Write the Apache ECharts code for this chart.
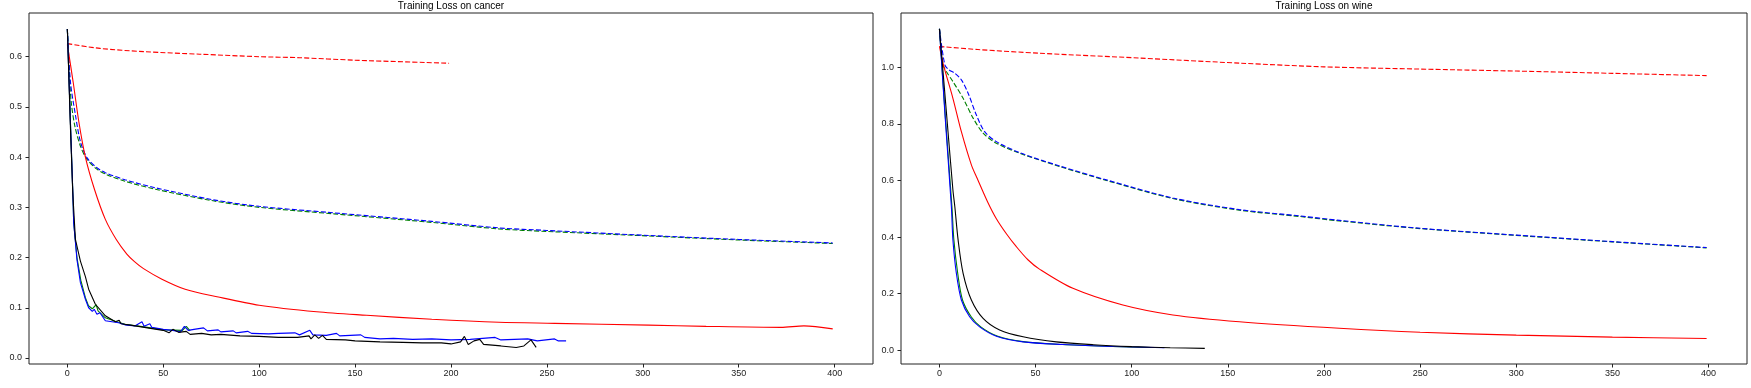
<!DOCTYPE html>
<html>
<head>
<meta charset="utf-8">
<script src="https://cdn.jsdelivr.net/npm/echarts@6/dist/echarts.min.js"></script>
<style>
html,body{margin:0;padding:0;background:#fff;}
#chart{width:1751px;height:388px;}
</style>
</head>
<body>
<div id="chart"></div>
<script>
// ---- tick labels ----
const xTicks = [0, 50, 100, 150, 200, 250, 300, 350, 400];
const cancerYTicks = [0.0, 0.1, 0.2, 0.3, 0.4, 0.5, 0.6];
const wineYTicks = [0.0, 0.2, 0.4, 0.6, 0.8, 1.0];
const titles = ["Training Loss on cancer", "Training Loss on wine"];

// ---- cancer series [epoch, loss] ----
const cancerRedDashed = [[0,0.626],[17,0.6165],[40,0.610],[69,0.605],[100,0.600],[121,0.598],[150,0.593],[199,0.587]];
const cancerGreenDashed = [[0,0.655],[1,0.57],[2,0.51],[4,0.46],[7,0.42],[10,0.397],[15,0.377],[20,0.366],[30,0.352],[46,0.336],[76,0.313],[100,0.300],[139,0.287],[190,0.270],[225,0.257],[250,0.252],[303,0.243],[350,0.235],[399,0.228]];
const cancerBlueDashed = [[0,0.655],[1.6,0.55],[4.2,0.484],[6.8,0.431],[10.2,0.399],[15,0.38],[19.8,0.369],[30,0.355],[45.8,0.339],[76,0.315],[100,0.302],[139,0.289],[190,0.272],[225,0.259],[250,0.254],[303,0.244],[350,0.236],[399,0.229]];
const cancerRedSolid = [[0,0.624],[3,0.55],[6,0.47],[9.4,0.40],[14.2,0.335],[19.8,0.276],[25.5,0.236],[31,0.207],[35,0.192],[39.7,0.178],[49.3,0.157],[61.4,0.137],[78,0.122],[100,0.105],[130,0.092],[156,0.085],[190,0.077],[225,0.071],[254,0.069],[303,0.0655],[333,0.063],[372,0.061],[384,0.064],[399,0.058]];
const cancerGreenSolid = [[0,0.655],[1.5,0.48],[2.8,0.335],[3.3,0.27],[5,0.2],[7,0.155],[9.4,0.12],[11,0.104],[13,0.098],[15,0.106],[16,0.094],[19.8,0.08],[25,0.073],[30,0.067],[40,0.062],[50,0.056],[60,0.055],[62,0.063],[64,0.054]];
const cancerBlueSolid = [[0,0.655],[1.5,0.48],[2.8,0.335],[3.3,0.269],[5,0.196],[6.8,0.150],[9.4,0.117],[11.1,0.100],[13,0.093],[14,0.097],[15.4,0.087],[17,0.090],[19.8,0.074],[26.7,0.070],[30,0.066],[35.4,0.064],[38.9,0.072],[40,0.063],[43,0.068],[44,0.061],[50,0.057],[55,0.055],[59,0.052],[61,0.063],[63,0.055],[66,0.057],[71,0.060],[73,0.054],[78.6,0.056],[80,0.052],[86.5,0.054],[88,0.050],[94,0.053],[96,0.049],[105,0.048],[110,0.049],[118.6,0.050],[121,0.046],[126.4,0.055],[128,0.046],[135,0.045],[140.3,0.049],[142,0.044],[153,0.046],[155,0.041],[163,0.038],[170,0.039],[180,0.037],[190,0.038],[200,0.036],[210,0.037],[223,0.041],[226,0.036],[240,0.038],[245,0.034],[254,0.038],[256,0.034],[260,0.034]];
const cancerBlackSolid = [[0,0.655],[1.5,0.47],[2.8,0.33],[4.2,0.236],[6.8,0.193],[9.4,0.162],[11.1,0.137],[14.6,0.107],[19.8,0.084],[25,0.072],[27,0.075],[28,0.068],[35.4,0.064],[45,0.058],[50,0.055],[53,0.050],[55,0.057],[58,0.051],[62,0.053],[64,0.047],[70,0.049],[75,0.046],[80,0.047],[90,0.044],[100,0.043],[110,0.041],[120,0.041],[126,0.044],[127,0.038],[129,0.046],[131,0.039],[133,0.045],[135,0.037],[145,0.036],[150,0.034],[163,0.032],[175,0.031],[185,0.030],[195,0.030],[200,0.028],[205,0.032],[207,0.043],[209,0.027],[212,0.034],[215,0.037],[217,0.027],[226,0.024],[234,0.021],[238,0.024],[241.7,0.036],[244.4,0.021]];

// ---- wine series [epoch, loss] ----
const wineRedDashed = [[0,1.073],[20,1.062],[52,1.049],[104,1.032],[156,1.014],[200,1.001],[250,0.993],[300,0.986],[350,0.978],[399,0.970]];
const wineGreenDashed = [[0,1.135],[1.9,1.008],[4,0.98],[7,0.949],[12.3,0.89],[17.5,0.82],[22.7,0.767],[29.6,0.731],[41.7,0.696],[62.5,0.649],[86.8,0.600],[121.4,0.536],[156,0.495],[187,0.473],[208,0.457],[250,0.430],[300,0.406],[350,0.383],[399,0.362]];
const wineBlueDashed = [[0,1.135],[2.8,1.008],[5,0.99],[7.9,0.979],[11.4,0.955],[14.9,0.908],[19.2,0.831],[23.5,0.772],[29.6,0.737],[41.7,0.698],[62.5,0.651],[86.8,0.602],[121.4,0.538],[156,0.497],[187,0.475],[208,0.459],[250,0.431],[300,0.407],[350,0.384],[399,0.363]];
const wineRedSolid = [[0,1.073],[2,1.01],[7,0.89],[11.4,0.772],[16.6,0.655],[20.1,0.60],[25,0.525],[29.6,0.465],[35,0.41],[40,0.366],[46,0.32],[52,0.287],[69.4,0.219],[95.4,0.16],[121.4,0.125],[156,0.101],[208,0.078],[250,0.064],[300,0.054],[350,0.047],[399,0.042]];
const wineGreenSolid = [[0,1.135],[3,0.83],[6.5,0.507],[7.5,0.39],[9.5,0.272],[12,0.178],[16.5,0.119],[21.5,0.083],[30,0.051],[43.5,0.031],[64,0.021],[90,0.014],[110,0.010]];
const wineBlueSolid = [[0,1.135],[3,0.82],[6.2,0.507],[7,0.39],[8.8,0.272],[11.4,0.178],[15.7,0.119],[20.9,0.083],[29.6,0.050],[43.5,0.030],[64.2,0.021],[90,0.014],[117,0.0095]];
const wineBlackSolid = [[0,1.135],[3.5,0.85],[7,0.566],[8,0.507],[9.7,0.39],[12.3,0.272],[16.6,0.178],[22.7,0.113],[31.3,0.072],[43.5,0.048],[60.8,0.030],[80,0.020],[100,0.0135],[120,0.0095],[138,0.007]];

const FONT = 'Liberation Sans';
// [data, colour, dashed, smooth]
const panels = [
  {left: 29, width: 844, ymin: -0.012, ymax: 0.687, yTicks: cancerYTicks,
   series: [
     [cancerRedDashed, '#ff0000', true, true],
     [cancerGreenDashed, '#008000', true, true],
     [cancerBlueDashed, '#0000ff', true, true],
     [cancerRedSolid, '#ff0000', false, true],
     [cancerGreenSolid, '#008000', false, false],
     [cancerBlueSolid, '#0000ff', false, false],
     [cancerBlackSolid, '#000000', false, false]
   ]},
  {left: 901, width: 846, ymin: -0.048, ymax: 1.191, yTicks: wineYTicks,
   series: [
     [wineRedDashed, '#ff0000', true, true],
     [wineGreenDashed, '#008000', true, true],
     [wineBlueDashed, '#0000ff', true, true],
     [wineRedSolid, '#ff0000', false, true],
     [wineGreenSolid, '#008000', false, true],
     [wineBlueSolid, '#0000ff', false, true],
     [wineBlackSolid, '#000000', false, true]
   ]}
];

const option = {
  animation: false,
  backgroundColor: '#fff',
  title: panels.map((p, i) => ({
    text: titles[i],
    left: p.left + p.width / 2,
    textAlign: 'center',
    top: 1,
    padding: 0,
    textStyle: {fontFamily: FONT, fontSize: 10, fontWeight: 'normal', color: '#000'}
  })),
  grid: panels.map(p => ({
    left: p.left, width: p.width, top: 13, height: 351,
    show: true, borderColor: '#222', borderWidth: 1, backgroundColor: 'transparent'
  })),
  xAxis: panels.map((p, i) => ({
    type: 'value', gridIndex: i, min: -20, max: 420,
    splitLine: {show: false},
    axisLine: {show: false, onZero: false},
    axisTick: {show: true, customValues: xTicks, length: 3.5, inside: false, lineStyle: {color: '#222', width: 1}},
    axisLabel: {customValues: xTicks, margin: 5, fontFamily: FONT, fontSize: 9, color: '#222'}
  })),
  yAxis: panels.map((p, i) => ({
    type: 'value', gridIndex: i, min: p.ymin, max: p.ymax,
    splitLine: {show: false},
    axisLine: {show: false, onZero: false},
    axisTick: {show: true, customValues: p.yTicks, length: 3.5, inside: false, lineStyle: {color: '#222', width: 1}},
    axisLabel: {customValues: p.yTicks, margin: 7, fontFamily: FONT, fontSize: 9, color: '#222',
      formatter: v => v.toFixed(1)}
  })),
  series: []
};

panels.forEach((p, i) => {
  p.series.forEach(([data, color, dashed, smooth]) => {
    option.series.push({
      type: 'line', xAxisIndex: i, yAxisIndex: i, data: data,
      showSymbol: false, symbol: 'none',
      smooth: smooth ? 0.3 : false,
      lineStyle: {color: color, width: 1.1, type: dashed ? [5, 2.2] : 'solid'},
      emphasis: {disabled: true}
    });
  });
});

const chart = echarts.init(document.getElementById('chart'), null, {renderer: 'canvas'});
chart.setOption(option);
</script>
</body>
</html>
